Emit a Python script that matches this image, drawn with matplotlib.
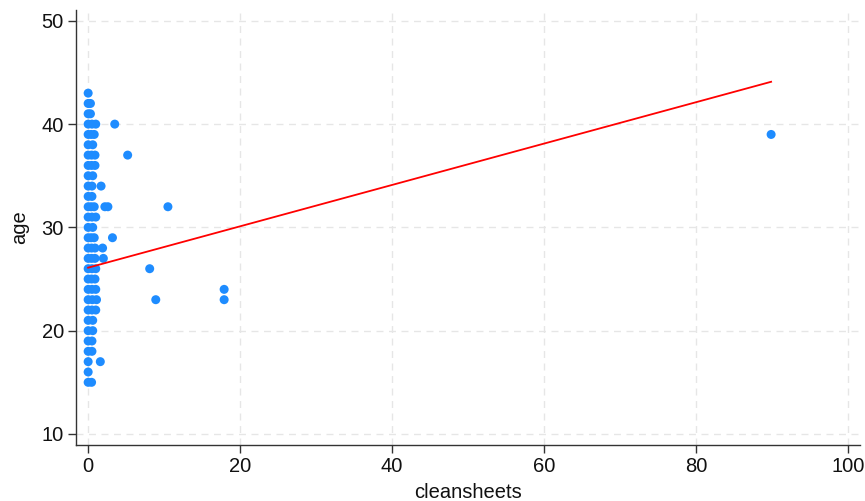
import matplotlib
matplotlib.use("Agg")
import matplotlib.pyplot as plt
import numpy as np

plt.rcParams['font.family'] = ['Liberation Sans', 'DejaVu Sans']

# Scatter data: cleansheets (x) and age (y)
cleansheets = [
    0,                      # 43
    0, 0.3,                 # 42
    0, 0.3,                 # 41
    0, 0.5, 1.0, 3.5,       # 40
    0, 0.4, 0.8,            # 39
    0, 0.6,                 # 38
    0, 0.45, 0.9, 5.2,      # 37
    0, 0.45, 0.9,           # 36
    0, 0.6,                 # 35
    0, 0.5, 1.7,            # 34
    0, 0.5,                 # 33
    0, 0.4, 0.8, 2.2, 2.6, 10.5,  # 32
    0, 0.5, 1.0,            # 31
    0, 0.6,                 # 30
    0, 0.4, 0.8, 3.2,       # 29
    0, 0.45, 0.9, 1.9,      # 28
    0, 0.45, 0.9, 2.0,      # 27
    0, 0.5, 1.0, 8.1,       # 26
    0, 0.45, 0.9,           # 25
    0, 0.5, 1.0, 17.9,      # 24
    0, 0.55, 1.1, 8.9, 17.9,  # 23
    0, 0.5, 1.0,            # 22
    0, 0.6,                 # 21
    0, 0.6,                 # 20
    0, 0.5,                 # 19
    0, 0.5,                 # 18
    0, 1.6,                 # 17
    0,                      # 16
    0, 0.45,                # 15
    89.9,                   # 39
]
age = [
    43,
    42, 42,
    41, 41,
    40, 40, 40, 40,
    39, 39, 39,
    38, 38,
    37, 37, 37, 37,
    36, 36, 36,
    35, 35,
    34, 34, 34,
    33, 33,
    32, 32, 32, 32, 32, 32,
    31, 31, 31,
    30, 30,
    29, 29, 29, 29,
    28, 28, 28, 28,
    27, 27, 27, 27,
    26, 26, 26, 26,
    25, 25, 25,
    24, 24, 24, 24,
    23, 23, 23, 23, 23,
    22, 22, 22,
    21, 21,
    20, 20,
    19, 19,
    18, 18,
    17, 17,
    16,
    15, 15,
    39,
]

# Linear fit line endpoints
fit_x = [0, 89.9]
fit_y = [26.1, 44.1]

xticks = [0, 20, 40, 60, 80, 100]
yticks = [10, 20, 30, 40, 50]

fig = plt.figure(figsize=(8.65, 5.01), dpi=100)
ax = fig.add_axes([76/865, 56/501, (860-76)/865, (491-56)/501])

ax.set_xlim(-1.6, 101.6)
ax.set_ylim(8.93, 51.05)

ax.set_xticks(xticks)
ax.set_yticks(yticks)
ax.grid(True, color='#e6e6e6', linestyle=(0, (5, 4)), linewidth=1.0)
ax.set_axisbelow(True)

ax.scatter(cleansheets, age, s=42, color='#1e8cff', edgecolors='none', zorder=3)
ax.plot(fit_x, fit_y, color='#ff0000', linewidth=1.3, zorder=4)

for side in ['top', 'right']:
    ax.spines[side].set_visible(False)
for side in ['left', 'bottom']:
    ax.spines[side].set_color('#333333')
    ax.spines[side].set_linewidth(1.0)

ax.tick_params(axis='both', direction='out', length=5.8, width=1, color='#333333',
               labelsize=14.5, labelcolor='#111111', pad=3)

ax.set_xlabel('cleansheets', fontsize=14.5, color='#111111', labelpad=5)
ax.set_ylabel('age', fontsize=14.5, color='#111111', labelpad=9)

fig.savefig('out.png', dpi=100)
